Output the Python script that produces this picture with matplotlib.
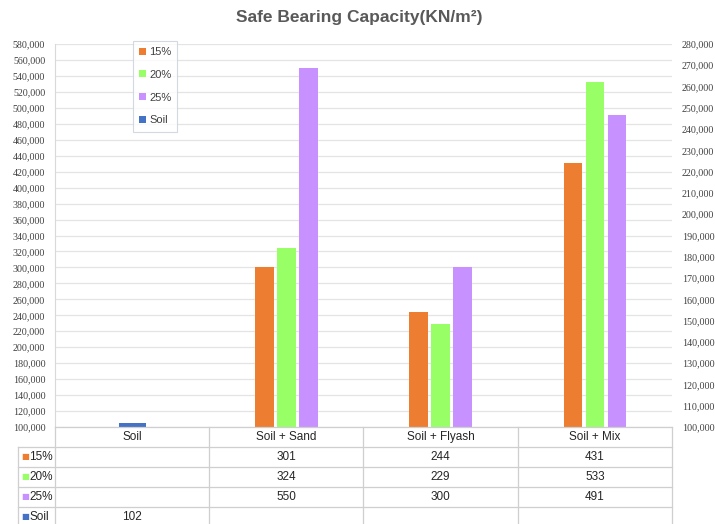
import matplotlib
matplotlib.use('Agg')
import matplotlib.pyplot as plt
import matplotlib.transforms as mtransforms
from matplotlib.lines import Line2D
from matplotlib.ticker import MultipleLocator, FuncFormatter
import numpy as np

# bearing capacity data (KN/m2)
categories = ['Soil', 'Soil + Sand', 'Soil + Flyash', 'Soil + Mix']
mix_labels = ['15%', '20%', '25%']
mix_values = [
    [None, 301, 244, 431],
    [None, 324, 229, 533],
    [None, 550, 300, 491],
]
soil_value = [102, None, None, None]
mix_colors = ['#ED7D31', '#99FF66', '#C792FF']
soil_color = '#4472C4'

plt.rcParams['font.family'] = ['Liberation Sans', 'DejaVu Sans']

fig = plt.figure(figsize=(7.15, 5.24), dpi=100)
W, H = 715, 524
x0, x1, y0, y1 = 55, 672, 44, 427
ax = fig.add_axes([x0 / W, 1 - y1 / H, (x1 - x0) / W, (y1 - y0) / H])
ax2 = ax.twinx()

x = np.arange(len(categories))
bw = 0.12
step = 0.143
handles = []
for i, (lab, vals, col) in enumerate(zip(mix_labels, mix_values, mix_colors)):
    xs = [xi + (i - 1) * step for xi, v in zip(x, vals) if v is not None]
    ys = [v for v in vals if v is not None]
    h = ax.bar(xs, ys, width=bw, color=col, label=lab, zorder=3)
    handles.append(h)

sx = [xi for xi, v in zip(x, soil_value) if v is not None]
sy = [v for v in soil_value if v is not None]
hs = ax2.bar(sx, sy, width=0.175, color=soil_color, label='Soil', zorder=3)
handles.append(hs)

ax.set_xlim(-0.5, len(categories) - 0.5)
ax.set_ylim(100, 580)
ax2.set_ylim(100, 280)
ax.yaxis.set_major_locator(MultipleLocator(20))
ax2.yaxis.set_major_locator(MultipleLocator(10))
fmt = FuncFormatter(lambda v, p: '{:,.0f},000'.format(v))
ax.yaxis.set_major_formatter(fmt)
ax2.yaxis.set_major_formatter(fmt)
for a in (ax, ax2):
    a.tick_params(axis='y', length=0, labelsize=7.2, labelcolor='#404040', pad=7)
    for lbl in a.get_yticklabels():
        lbl.set_family('Liberation Serif')
    for s in a.spines.values():
        s.set_visible(False)
ax.set_xticks([])
ax.spines['left'].set_visible(True)
ax.spines['left'].set_color('#d9d9d9')
ax.grid(axis='y', color='#e4e4e4', linewidth=0.9, zorder=0)
ax.set_axisbelow(True)

fig.text(0.503, 0.967, 'Safe Bearing Capacity(KN/m²)', ha='center', va='center',
         fontsize=12.5, fontweight='bold', color='#595959')

leg = ax.legend(handles=handles, loc='upper left',
                bbox_to_anchor=(133 / W, 1 - 41 / H), bbox_transform=fig.transFigure,
                borderaxespad=0, fontsize=8, handlelength=0.6, handleheight=0.6,
                handletextpad=0.3, labelspacing=1.15, borderpad=0.55,
                frameon=True, fancybox=False)
leg.get_frame().set_edgecolor('#c8d0dc')
leg.get_frame().set_linewidth(0.8)
for t in leg.get_texts():
    t.set_color('#404040')

# data table under the plot: x follows the category axis, y in figure pixels
trans = mtransforms.blended_transform_factory(ax.transData, fig.transFigure)
edge = '#cfcfcf'
row_h = 20
lab_x = 18
rows = list(zip(mix_labels, mix_values)) + [('Soil', soil_value)]
row_colors = mix_colors + [soil_color]
n_rows = len(rows)


def fy(py):
    return 1 - py / H


def hline(xa, xb, py):
    fig.add_artist(Line2D([xa / W, xb / W], [fy(py), fy(py)], color=edge, lw=0.9))


def vline(px, pa, pb):
    fig.add_artist(Line2D([px / W, px / W], [fy(pa), fy(pb)], color=edge, lw=0.9))


hline(x0, x1, y1)
for i in range(1, n_rows + 1):
    hline(lab_x, x1, y1 + row_h * i)
vline(lab_x, y1 + row_h, H + 5)
for b in np.arange(len(categories) + 1) - 0.5:
    px = ax.transData.transform((b, 0))[0]
    vline(px, y1, H + 5)

for j, c in enumerate(categories):
    ax.text(j, fy(y1 + row_h / 2), c, transform=trans, ha='center', va='center',
            fontsize=8.5, color='#262626', clip_on=False)

for i, ((lab, vals), col) in enumerate(zip(rows, row_colors), start=1):
    yc = fy(y1 + row_h * i + row_h / 2)
    fig.text(21 / W, yc, '■', color=col, fontsize=6, ha='left', va='center',
             family='DejaVu Sans')
    fig.text(29 / W, yc, lab, color='#262626', fontsize=8.5, ha='left', va='center')
    for j, v in enumerate(vals):
        if v is not None:
            ax.text(j, yc, str(v), transform=trans, ha='center', va='center',
                    fontsize=8.5, color='#262626', clip_on=False)

fig.savefig('out.png', dpi=100)
